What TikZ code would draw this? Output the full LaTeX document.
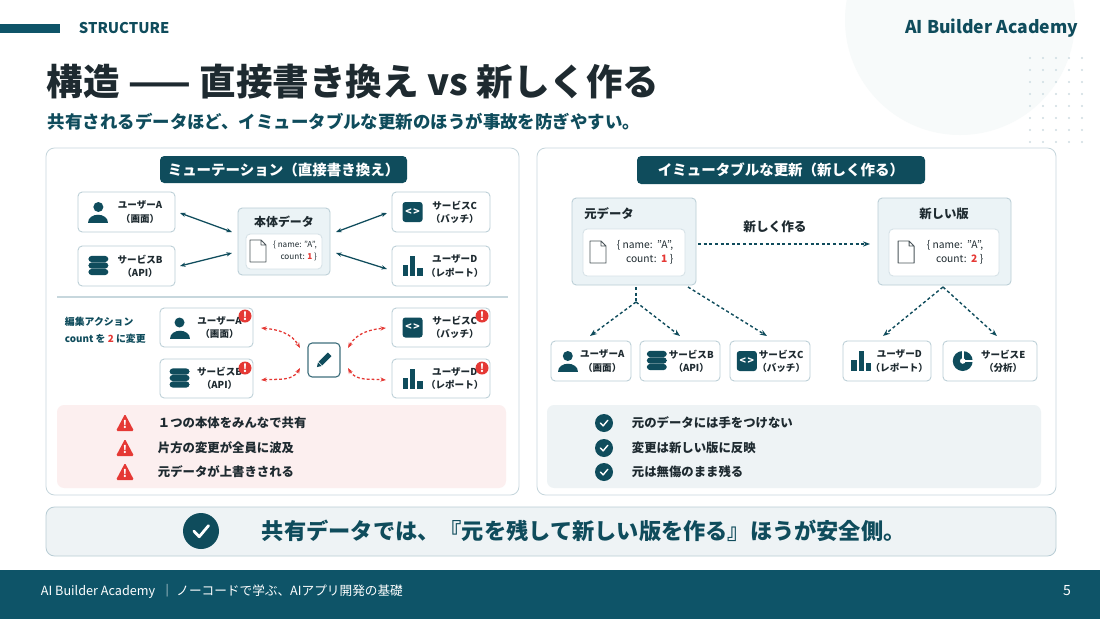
\documentclass[tikz,border=0pt]{standalone}
\usepackage{fontspec}
\setmainfont{Noto Sans CJK JP}
\usetikzlibrary{fit,calc,arrows.meta}
\definecolor{teal}{HTML}{0F4C5C}
\definecolor{foot}{HTML}{0E5468}
\definecolor{red1}{HTML}{E53935}
\definecolor{bord}{HTML}{B9CDD5}
\definecolor{pbg}{HTML}{FAFCFD}
\definecolor{dbg}{HTML}{EBF3F6}
\definecolor{pink}{HTML}{FCEFEF}
\definecolor{gbg}{HTML}{EEF3F5}
\definecolor{txt}{HTML}{1E2A30}
\tikzset{
 box/.style={draw=bord,fill=white,rounded corners=3pt,inner sep=0pt,line width=0.6pt},
 panel/.style={draw=bord!80,fill=white,rounded corners=6pt,inner sep=0pt,line width=0.6pt},
 pill/.style={fill=teal,rounded corners=3pt,inner sep=0pt},
 ntext/.style={font=\bfseries\fontsize{6.8}{8.5}\selectfont,align=center,text=txt},
 arr/.style={{Stealth[length=4pt]}-{Stealth[length=4pt]},teal,line width=0.9pt},
 rarr/.style={{Stealth[length=4pt]}-{Stealth[length=4pt]},red1,line width=0.9pt,dash pattern=on 2pt off 1.5pt},
 darr/.style={-{Stealth[length=5pt]},teal,line width=1pt,dash pattern=on 2.2pt off 1.8pt},
 dln/.style={teal,line width=1pt,dash pattern=on 2.2pt off 1.8pt},
 lst/.style={font=\bfseries\fontsize{8.8}{10}\selectfont,anchor=west,text=txt},
 pics/icperson/.style={code={\fill[teal] (0,-5) circle (5);\fill[teal] (-10,11) .. controls (-10,0) and (10,0) .. (10,11) -- cycle;}},
 pics/icdb/.style={code={\foreach \yy in {-7.5,-1,5.5}{\fill[teal,rounded corners=2.5] (-10,\yy-2.7) rectangle (10,\yy+3.7);}}},
 pics/iccode/.style={code={\fill[teal,rounded corners=2] (-10,-10) rectangle (10,10);\node[text=white,font=\bfseries\fontsize{7.5}{7.5}\selectfont] at (0,0) {<\,>};}},
 pics/icbars/.style={code={\fill[teal] (-10,10) rectangle (-4.5,-1);\fill[teal] (-2.7,10) rectangle (2.7,-10);\fill[teal] (4.5,10) rectangle (10,2);}},
 pics/icpie/.style={code={\fill[teal] (0,0) circle (10);\draw[white,line width=1.2pt] (0,0)--(0,-10.5) (0,0)--(10.5,0);\fill[white] (0,0) circle (2.8);}},
 pics/icdoc/.style={code={\draw[txt!80,fill=white,line width=0.7pt,line join=round] (-8,-11)--(3,-11)--(8,-6)--(8,11)--(-8,11)--cycle (3,-11)--(3,-6)--(8,-6);}},
}
\newcommand\svcbox[8]{% name x1 y1 x2 y2 icon line1 line2
 \node[box,fit={(#2,#3)(#4,#5)}] (#1) {};
 \pgfmathsetmacro\ix{#2+0.21*(#4-#2)}\pgfmathsetmacro\tx{#2+0.64*(#4-#2)}\pgfmathsetmacro\cy{(#3+#5)/2}
 \pic at (\ix,\cy) {#6};
 \node[ntext] at (\tx,\cy) {#7\\[1pt]#8};}
\newcommand\badge[2]{\fill[red1] (#1,#2) circle (6.5);\node[text=white,font=\bfseries\fontsize{8}{8}\selectfont] at (#1,#2) {!};}
\newcommand\warn[2]{\fill[red1,rounded corners=1pt] (#1-9,#2+8)--(#1+9,#2+8)--(#1,#2-9)--cycle;\node[text=white,font=\bfseries\fontsize{7.5}{7.5}\selectfont] at (#1,#2+2) {!};}
\newcommand\chk[3]{\fill[teal] (#1,#2) circle (#3);\draw[white,line width=#3*0.11pt,line cap=round,line join=round] (#1-0.4*#3,#2)--(#1-0.1*#3,#2+0.32*#3)--(#1+0.42*#3,#2-0.3*#3);}
\begin{document}
\begin{tikzpicture}[x=0.025cm,y=-0.025cm]
\useasboundingbox (0,0) rectangle (1100,619);
\fill[white] (0,0) rectangle (1100,619);
\fill[gbg!45] (960,20) circle (115);
\foreach \i in {0,...,4}{\foreach \j in {0,...,7}{\fill[bord!70] (1030+\i*13,58+\j*12) circle (1.2);}}
% header
\fill[foot] (0,24) rectangle (60,33);
\node[anchor=west,text=teal,font=\bfseries\fontsize{10.5}{12}\selectfont] (st) at (74,28) {STRUCTURE};
\node[anchor=east,text=teal,font=\bfseries\fontsize{12.5}{14}\selectfont] (brand) at (1083,28) {AI Builder Academy};
\node[anchor=west,text=txt,font=\bfseries\fontsize{26}{28}\selectfont] (title) at (42,82) {構造 —— 直接書き換え vs 新しく作る};
\node[anchor=west,text=teal,font=\bfseries\fontsize{12.4}{14}\selectfont] (sub) at (43,122) {共有されるデータほど、イミュータブルな更新のほうが事故を防ぎやすい。};
% panels
\node[panel,fit={(46,148)(519,495)}] (lp) {};
\node[panel,fit={(537,148)(1056,495)}] (rp) {};
\node[pill,fit={(160,156)(407,183)}] (lh) {};
\node[text=white,font=\bfseries\fontsize{10.3}{12}\selectfont] at (lh) {ミューテーション（直接書き換え）};
\node[pill,fit={(637,156)(925,184)}] (rh) {};
\node[text=white,font=\bfseries\fontsize{10.3}{12}\selectfont] at (rh) {イミュータブルな更新（新しく作る）};
% left top
\svcbox{ua}{78}{192}{175}{232}{icperson}{ユーザーA}{（画面）}
\svcbox{sb}{78}{246}{175}{286}{icdb}{サービスB}{（API）}
\svcbox{sc}{392}{192}{490}{232}{iccode}{サービスC}{（バッチ）}
\svcbox{ud}{392}{246}{490}{286}{icbars}{ユーザーD}{（レポート）}
\node[box,fill=dbg,fit={(238,208)(330,275)}] (data) {};
\node[font=\bfseries\fontsize{8.5}{10}\selectfont,text=txt] at (284,222) {本体データ};
\node[box,draw=bord!60,fit={(246,234)(322,269)}] (din) {};
\pic at (258,251) {icdoc};
\node[font=\fontsize{5.8}{8}\selectfont,text=txt,align=right] at (295,251) {\{ name: "A",\\ count: \textcolor{red1}{\bfseries 1} \}};
\draw[arr] (180,213)--(232,232);
\draw[arr] (180,266)--(232,253);
\draw[arr] (336,232)--(387,213);
\draw[arr] (336,253)--(387,269);
\draw[bord!80,line width=0.8pt] (57,297)--(508,297);
\node[anchor=west,text=teal,font=\bfseries\fontsize{7}{9}\selectfont,align=left] (edit) at (60,330) {編集アクション\\[3pt]count を \textcolor{red1}{2} に変更};
\svcbox{ua2}{160}{308}{253}{347}{icperson}{ユーザーA}{（画面）}
\svcbox{sb2}{160}{359}{253}{398}{icdb}{サービスB}{（API）}
\svcbox{sc2}{392}{308}{490}{347}{iccode}{サービスC}{（バッチ）}
\svcbox{ud2}{392}{359}{490}{398}{icbars}{ユーザーD}{（レポート）}
\badge{245}{316}\badge{245}{368}\badge{482}{316}\badge{482}{368}
\node[box,draw=teal!80,line width=0.8pt,fit={(308,343)(340,377)}] (pen) {};
\begin{scope}[shift={(324,360)},rotate=-45]
\fill[teal] (-2.5,-8) rectangle (2.5,5); \fill[teal] (-2.5,6) -- (2.5,6) -- (0,10) -- cycle;
\end{scope}
\draw[rarr] (261,328) to[out=-5,in=120] (300,348);
\draw[rarr] (261,380) to[out=5,in=-120] (300,368);
\draw[rarr] (348,348) to[out=60,in=185] (386,328);
\draw[rarr] (348,368) to[out=-60,in=175] (386,380);
\node[fill=pink,rounded corners=5pt,inner sep=0,fit={(57,405)(506,488)}] (warnbox) {};
\warn{125}{423}\warn{125}{448}\warn{125}{472}
\node[lst] at (153,423) {１つの本体をみんなで共有};
\node[lst] at (153,448) {片方の変更が全員に波及};
\node[lst] at (153,472) {元データが上書きされる};
% right
\node[box,fill=dbg,fit={(572,198)(696,285)}] (orig) {};
\node[font=\bfseries\fontsize{8.8}{10}\selectfont,text=txt] at (609,214) {元データ};
\node[box,draw=bord!60,fit={(583,229)(685,276)}] (oin) {};
\pic at (598,252) {icdoc};
\node[font=\fontsize{7.3}{10}\selectfont,text=txt,align=right] at (645,252) {\{ name:\ \ "A",\\ count:\ \ \textcolor{red1}{\bfseries 1} \}};
\node[box,fill=dbg,fit={(878,198)(1011,285)}] (newv) {};
\node[font=\bfseries\fontsize{8.8}{10}\selectfont,text=txt] at (944,214) {新しい版};
\node[box,draw=bord!60,fit={(889,229)(999,276)}] (nin) {};
\pic at (906,252) {icdoc};
\node[font=\fontsize{7.3}{10}\selectfont,text=txt,align=right] at (955,252) {\{ name:\ \ "A",\\ count:\ \ \textcolor{red1}{\bfseries 2} \}};
\draw[darr] (698,244)--(870,244);
\node[font=\bfseries\fontsize{9}{10}\selectfont,text=txt] (mk) at (775,227) {新しく作る};
\svcbox{ra}{551}{341}{631}{381}{icperson}{ユーザーA}{（画面）}
\svcbox{rb}{640}{341}{720}{381}{icdb}{サービスB}{（API）}
\svcbox{rc}{730}{341}{810}{381}{iccode}{サービスC}{（バッチ）}
\svcbox{rd}{843}{341}{931}{381}{icbars}{ユーザーD}{（レポート）}
\svcbox{re}{943}{341}{1037}{381}{icpie}{サービスE}{（分析）}
\coordinate (br) at (636,302);
\draw[dln] (636,287)--(br);
\draw[darr] (br)--(590,336);
\draw[darr] (br)--(680,336);
\draw[darr] (688,287)--(767,336);
\coordinate (br2) at (943,287);
\draw[darr] (br2)--(883,336);
\draw[darr] (br2)--(997,336);
\node[fill=gbg,rounded corners=5pt,inner sep=0,fit={(547,405)(1041,488)}] (okbox) {};
\chk{604}{423}{9}\chk{604}{448}{9}\chk{604}{472}{9}
\node[lst] at (627,423) {元のデータには手をつけない};
\node[lst] at (627,448) {変更は新しい版に反映};
\node[lst] at (627,472) {元は無傷のまま残る};
% banner
\node[draw=bord,fill=gbg,rounded corners=6pt,line width=0.6pt,inner sep=0,fit={(46,507)(1056,556)}] (ban) {};
\chk{201}{531}{18}
\node[font=\bfseries\fontsize{15.8}{17}\selectfont,text=teal,anchor=west] (bt) at (257,531) {共有データでは、『元を残して新しい版を作る』ほうが安全側。};
% footer
\fill[foot] (0,570) rectangle (1100,619);
\node[anchor=west,text=white,font=\fontsize{9}{11}\selectfont] (ft) at (36,591) {AI Builder Academy \ ｜\ ノーコードで学ぶ、AIアプリ開発の基礎};
\node[text=white,font=\fontsize{10}{11}\selectfont] (pg) at (1067,591) {5};
\end{tikzpicture}
\end{document}
